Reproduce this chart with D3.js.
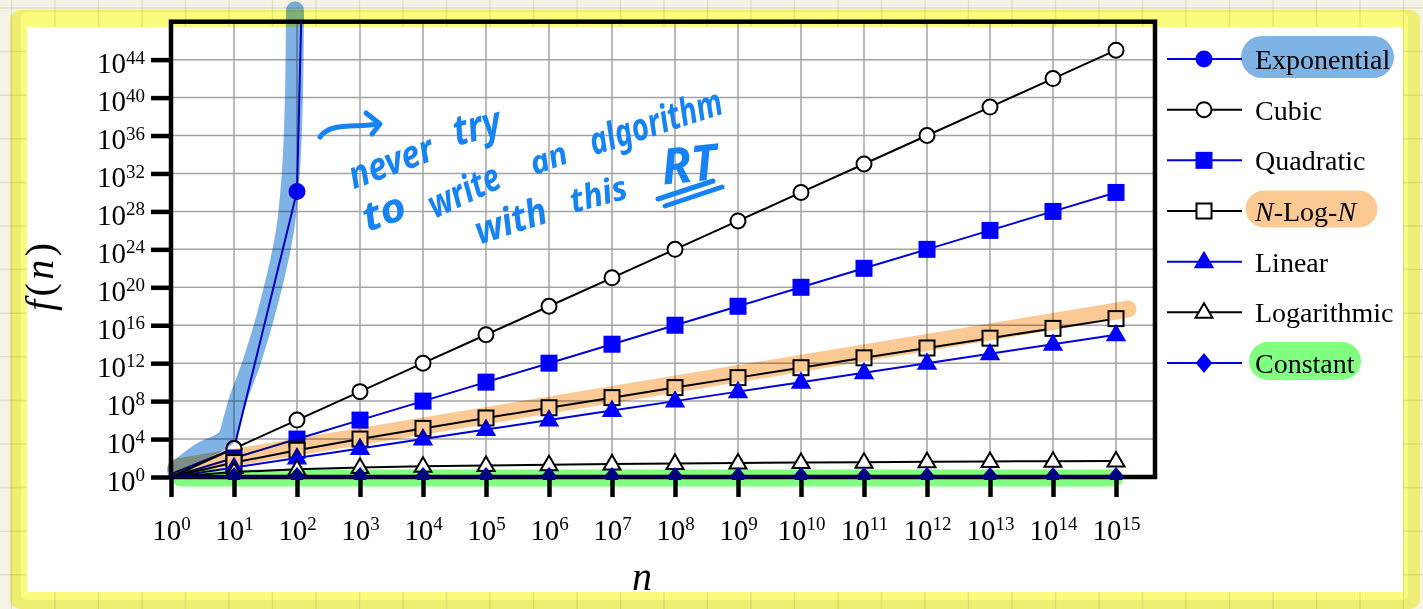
<!DOCTYPE html>
<html><head><meta charset="utf-8">
<script src="https://cdn.jsdelivr.net/npm/d3@7"></script>
<style>
html,body{margin:0;padding:0;background:#f5f3e6;}
svg{display:block}
.hl{mix-blend-mode:multiply}
</style></head><body>
<svg id="chart" width="1423" height="609"></svg>
<script>
// ---------- DATA ----------
const nValues = [1,1e1,1e2,1e3,1e4,1e5,1e6,1e7,1e8,1e9,1e10,1e11,1e12,1e13,1e14,1e15];
const xTickExponents = [0,1,2,3,4,5,6,7,8,9,10,11,12,13,14,15];
const yTickExponents = [0,4,8,12,16,20,24,28,32,36,40,44];
const seriesNames = ["Exponential","Cubic","Quadratic","N-Log-N","Linear","Logarithmic","Constant"];
const exponential = [2, 1024, 1.2676506e30, 1.0715086e301];
const cubic = [1,1e3,1e6,1e9,1e12,1e15,1e18,1e21,1e24,1e27,1e30,1e33,1e36,1e39,1e42,1e45];
const quadratic = [1,1e2,1e4,1e6,1e8,1e10,1e12,1e14,1e16,1e18,1e20,1e22,1e24,1e26,1e28,1e30];
const nLogN = [1,33.2,664,9966,1.329e5,1.661e6,1.993e7,2.325e8,2.658e9,2.990e10,3.322e11,3.654e12,3.986e13,4.319e14,4.651e15,4.983e16];
const linear = [1,1e1,1e2,1e3,1e4,1e5,1e6,1e7,1e8,1e9,1e10,1e11,1e12,1e13,1e14,1e15];
const logarithmic = [1,3.32,6.64,9.97,13.29,16.61,19.93,23.25,26.58,29.90,33.22,36.54,39.86,43.19,46.51,49.83];
const constant = [1,1,1,1,1,1,1,1,1,1,1,1,1,1,1,1];
// highlighter strokes (log10 n, log10 f)
const expHlLogN = [0.08,0.46,0.87,0.97,1.06,1.29,1.57,1.81,1.905,1.95,1.968];
const expHlLogF = [0.74,2.64,4.11,6.01,8.12,12.3,18.7,26.0,32.4,39.7,49.2];
const nlnHlLogN = [0.08,15.19];
const nlnHlLogF = [1.05,17.71];
const constHlLogN = [0.15,14.98];
const constHlLogF = [-0.1,-0.1];

// ---------- SETUP ----------
const W = 1423, H = 609;
const svg = d3.select("#chart");
const serif = "'Liberation Serif','Times New Roman',serif";

// paper background
const bg = svg.append("g");
bg.append("rect").attr("width", W).attr("height", H).attr("fill", "#f5f3e6");
bg.append("rect").attr("x", 10).attr("y", 10).attr("width", 1410).attr("height", 599).attr("rx", 10).attr("fill", "#efee74");
bg.append("rect").attr("x", 21).attr("y", 12).attr("width", 1387).attr("height", 588).attr("rx", 6).attr("fill", "#fbfb7e");
const paperV = d3.range(11.5, W, 43.5), paperH = d3.range(8, H, 43.6);
bg.selectAll(".pv").data(paperV).join("line").attr("x1", d => d).attr("x2", d => d).attr("y1", 0).attr("y2", H)
  .attr("stroke", "rgba(120,110,60,0.16)").attr("stroke-width", 1.5);
bg.selectAll(".ph").data(paperH).join("line").attr("y1", d => d).attr("y2", d => d).attr("x1", 0).attr("x2", W)
  .attr("stroke", "rgba(120,110,60,0.16)").attr("stroke-width", 1.5);
bg.append("rect").attr("x", 27).attr("y", 27).attr("width", 1376).attr("height", 565).attr("fill", "#fff");

// scales
const x = d3.scaleLog().domain([1, Math.pow(10, 984 / 63)]).range([171, 1155]);
const y = d3.scaleLog().domain([1, 1e48]).range([477, 21.7]);
const xl = e => x(Math.pow(10, e));
const yl = e => y(Math.pow(10, e));

// grid
const grid = svg.append("g");
grid.selectAll(".gv").data(xTickExponents.slice(1)).join("line")
  .attr("x1", d => xl(d)).attr("x2", d => xl(d)).attr("y1", y(1)).attr("y2", y(1e48))
  .attr("stroke", "#a3a3a3").attr("stroke-width", 1.5);
grid.selectAll(".gh").data(yTickExponents.slice(1)).join("line")
  .attr("y1", d => yl(d)).attr("y2", d => yl(d)).attr("x1", x.range()[0]).attr("x2", x.range()[1])
  .attr("stroke", "#a3a3a3").attr("stroke-width", 1.5);

// axes
function supLabel(sel) {
  sel.each(function(d) {
    const t = d3.select(this);
    const e = Math.round(Math.log10(d));
    t.text(null);
    t.append("tspan").text("10");
    t.append("tspan").attr("dy", -9.5).attr("font-size", 19).text(e);
  });
}
const yAxis = svg.append("g").attr("transform", `translate(${x.range()[0]},0)`)
  .call(d3.axisLeft(y).tickValues(yTickExponents.map(e => Math.pow(10, e))).tickSize(20).tickPadding(6).tickFormat(() => ""));
yAxis.select(".domain").remove();
yAxis.selectAll(".tick line").attr("stroke", "#000").attr("stroke-width", 4.5);
yAxis.selectAll(".tick text").attr("font-family", serif).attr("font-size", 29).attr("fill", "#000")
  .attr("dy", "0.45em").call(supLabel);

const xAxis = svg.append("g").attr("transform", `translate(0,${y.range()[0]})`)
  .call(d3.axisBottom(x).tickValues(xTickExponents.map(e => Math.pow(10, e))).tickSize(20).tickPadding(22).tickFormat(() => ""));
xAxis.select(".domain").remove();
xAxis.selectAll(".tick line").attr("stroke", "#000").attr("stroke-width", 4.5);
xAxis.selectAll(".tick text").attr("font-family", serif).attr("font-size", 29).attr("fill", "#000").call(supLabel);

// frame
svg.append("rect").attr("x", x.range()[0]).attr("y", y.range()[1])
  .attr("width", x.range()[1] - x.range()[0]).attr("height", y.range()[0] - y.range()[1])
  .attr("fill", "none").attr("stroke", "#000").attr("stroke-width", 4.5);

// axis titles
svg.append("text").attr("x", 642).attr("y", 590).attr("text-anchor", "middle")
  .attr("font-family", serif).attr("font-style", "italic").attr("font-size", 40).text("n");
const yt = svg.append("text").attr("transform", "translate(53,277) rotate(-90)").attr("text-anchor", "middle")
  .attr("font-family", serif).attr("font-size", 40).attr("textLength", 68).attr("lengthAdjust", "spacing");
yt.append("tspan").attr("font-style", "italic").text("f");
yt.append("tspan").text("(");
yt.append("tspan").attr("font-style", "italic").text("n");
yt.append("tspan").text(")");

// clip
svg.append("clipPath").attr("id", "plotclip").append("rect")
  .attr("x", 160).attr("y", y.range()[1]).attr("width", 1010).attr("height", 480 - y.range()[1]);

// markers
const BLUE = "#0000ff", LBLUE = "#0000d8";
const markerDefs = {
  circle: g => g.append("circle").attr("r", 7.5),
  square: g => g.append("rect").attr("x", -7.5).attr("y", -7.5).attr("width", 15).attr("height", 15),
  triangle: g => g.append("path").attr("d", "M0,-9L8.5,5.5L-8.5,5.5Z"),
  diamond: g => g.append("path").attr("d", "M0,-8.5L7,0L0,8.5L-7,0Z")
};
const series = [
  {name: seriesNames[0], values: exponential, color: LBLUE, marker: "circle", fill: BLUE, stroke: BLUE},
  {name: seriesNames[1], values: cubic, color: "#000", marker: "circle", fill: "#fff", stroke: "#000"},
  {name: seriesNames[2], values: quadratic, color: LBLUE, marker: "square", fill: BLUE, stroke: BLUE},
  {name: seriesNames[3], values: nLogN, color: "#000", marker: "square", fill: "#fff", stroke: "#000"},
  {name: seriesNames[4], values: linear, color: LBLUE, marker: "triangle", fill: BLUE, stroke: BLUE},
  {name: seriesNames[5], values: logarithmic, color: "#000", marker: "triangle", fill: "#fff", stroke: "#000"},
  {name: seriesNames[6], values: constant, color: LBLUE, marker: "diamond", fill: BLUE, stroke: BLUE}
];

const line = d3.line().x(d => x(d[0])).y(d => y(d[1]));
const plot = svg.append("g").attr("clip-path", "url(#plotclip)");
series.forEach(s => {
  const pts = s.values.map((v, i) => [nValues[i], v]);
  plot.append("path").datum(pts).attr("d", line).attr("fill", "none")
    .attr("stroke", s.color).attr("stroke-width", 2);
  pts.slice(1).forEach(p => {
    const g = plot.append("g").attr("transform", `translate(${x(p[0])},${y(p[1])})`);
    markerDefs[s.marker](g).attr("fill", s.fill).attr("stroke", s.stroke).attr("stroke-width", 2);
  });
});

// legend
const legX0 = 1167, legX1 = 1242, legMx = 1204, legTx = 1255, legY0 = 59, legDy = 50.67;
series.forEach((s, i) => {
  const ly = legY0 + i * legDy;
  svg.append("line").attr("x1", legX0).attr("x2", legX1).attr("y1", ly).attr("y2", ly)
    .attr("stroke", s.color).attr("stroke-width", 2);
  const g = svg.append("g").attr("transform", `translate(${legMx},${ly})`);
  markerDefs[s.marker](g).attr("fill", s.fill).attr("stroke", s.stroke).attr("stroke-width", 2);
  const t = svg.append("text").attr("x", legTx).attr("y", ly + 10).attr("font-family", serif).attr("font-size", 28);
  if (s.name === "N-Log-N") {
    t.append("tspan").attr("font-style", "italic").text("N");
    t.append("tspan").text("-Log-");
    t.append("tspan").attr("font-style", "italic").text("N");
  } else t.text(s.name);
});

// highlighter strokes (multiply)
const hl = svg.append("g");
const hlLine = d3.line().x(d => xl(d[0])).y(d => yl(d[1])).curve(d3.curveCatmullRom);
hl.append("path").attr("class", "hl").datum(expHlLogN.map((v, i) => [v, expHlLogF[i]])).attr("d", hlLine)
  .attr("fill", "none").attr("stroke", "#7fb3e6").attr("stroke-width", 18).attr("stroke-linecap", "round").attr("stroke-linejoin", "round");
hl.append("path").attr("class", "hl").datum(nlnHlLogN.map((v, i) => [v, nlnHlLogF[i]])).attr("d", hlLine)
  .attr("fill", "none").attr("stroke", "#fbc994").attr("stroke-width", 17).attr("stroke-linecap", "round");
hl.append("path").attr("class", "hl").datum(constHlLogN.map((v, i) => [v, constHlLogF[i]])).attr("d", hlLine)
  .attr("fill", "none").attr("stroke", "#80ff80").attr("stroke-width", 17).attr("stroke-linecap", "round");
// legend highlights
const legHl = [
  {i: 0, x1: 1262, x2: 1373, w: 42, c: "#7fb3e6"},
  {i: 3, x1: 1264, x2: 1359, w: 37, c: "#fbc994"},
  {i: 6, x1: 1268, x2: 1342, w: 38, c: "#80ff80"}
];
legHl.forEach(h => {
  const ly = legY0 + h.i * legDy - 2;
  hl.append("line").attr("class", "hl").attr("x1", h.x1).attr("x2", h.x2).attr("y1", ly).attr("y2", ly)
    .attr("stroke", h.c).attr("stroke-width", h.w).attr("stroke-linecap", "round");
});

// handwriting annotation
const ink = "#1683f5";
const hw = svg.append("g").attr("fill", ink).attr("font-family", "'Noto Sans','DejaVu Sans',sans-serif")
  .attr("font-weight", 700).attr("font-style", "italic");
const words = [
  {t: "never", cx: 390, cy: 160, r: -20, len: 88, fs: 38},
  {t: "try", cx: 476, cy: 124, r: -14, len: 48, fs: 42},
  {t: "to", cx: 383, cy: 210, r: -20, len: 44, fs: 40},
  {t: "write", cx: 463, cy: 189, r: -25, len: 76, fs: 38},
  {t: "an", cx: 548, cy: 157, r: -20, len: 38, fs: 32},
  {t: "algorithm", cx: 655, cy: 120, r: -18, len: 138, fs: 38},
  {t: "with", cx: 510, cy: 219, r: -18, len: 74, fs: 38},
  {t: "this", cx: 598, cy: 193, r: -15, len: 58, fs: 34},
  {t: "RT", cx: 689, cy: 163, r: -6, len: 56, fs: 50}
];
words.forEach(w => {
  hw.append("text").attr("transform", `translate(${w.cx},${w.cy}) rotate(${w.r})`)
    .attr("text-anchor", "middle").attr("dominant-baseline", "central")
    .attr("font-size", w.fs).attr("textLength", w.len).attr("lengthAdjust", "spacingAndGlyphs").text(w.t);
});
const inkStroke = g => g.attr("fill", "none").attr("stroke", ink).attr("stroke-width", 5).attr("stroke-linecap", "round").attr("stroke-linejoin", "round");
svg.append("path").attr("d", "M320,137 C330,122 355,128 379,124").call(inkStroke);
svg.append("path").attr("d", "M366,113 L380,124 L372,134").call(inkStroke);
svg.append("path").attr("d", "M658,199 L713,181").call(inkStroke);
svg.append("path").attr("d", "M665,206 L722,187").call(inkStroke);
</script>
</body></html>
